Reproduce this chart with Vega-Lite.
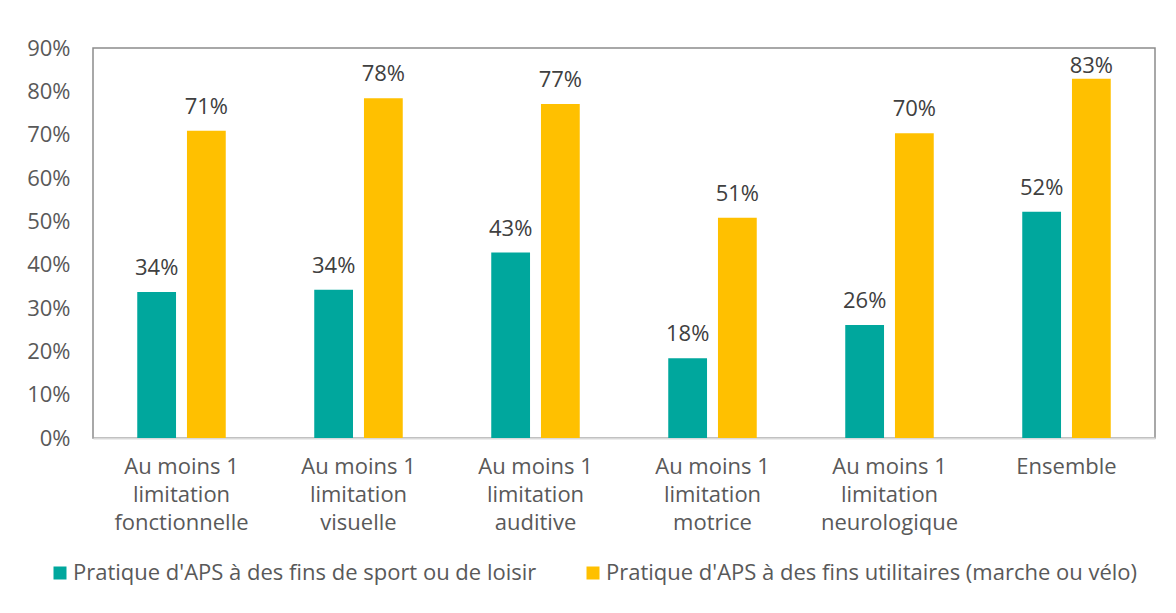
{
  "$schema": "https://vega.github.io/schema/vega-lite/v6.json",
  "width": 1062,
  "height": 390,
  "autosize": {"type": "none"},
  "padding": {"left": 93, "top": 48, "right": 21, "bottom": 175},
  "background": "white",
  "config": {
    "font": "Open Sans",
    "view": {"stroke": "#8c8c8c", "strokeWidth": 1.5},
    "axis": {"labelColor": "#595959", "labelFontSize": 22, "grid": false, "ticks": false, "title": null}
  },
  "data": {
    "values": [
      {"cat": "Au moins 1 limitation fonctionnelle", "serie": "Pratique d'APS à des fins de sport ou de loisir", "v": 0.337},
      {"cat": "Au moins 1 limitation fonctionnelle", "serie": "Pratique d'APS à des fins utilitaires (marche ou vélo)", "v": 0.709},
      {"cat": "Au moins 1 limitation visuelle", "serie": "Pratique d'APS à des fins de sport ou de loisir", "v": 0.342},
      {"cat": "Au moins 1 limitation visuelle", "serie": "Pratique d'APS à des fins utilitaires (marche ou vélo)", "v": 0.784},
      {"cat": "Au moins 1 limitation auditive", "serie": "Pratique d'APS à des fins de sport ou de loisir", "v": 0.428},
      {"cat": "Au moins 1 limitation auditive", "serie": "Pratique d'APS à des fins utilitaires (marche ou vélo)", "v": 0.771},
      {"cat": "Au moins 1 limitation motrice", "serie": "Pratique d'APS à des fins de sport ou de loisir", "v": 0.184},
      {"cat": "Au moins 1 limitation motrice", "serie": "Pratique d'APS à des fins utilitaires (marche ou vélo)", "v": 0.508},
      {"cat": "Au moins 1 limitation neurologique", "serie": "Pratique d'APS à des fins de sport ou de loisir", "v": 0.261},
      {"cat": "Au moins 1 limitation neurologique", "serie": "Pratique d'APS à des fins utilitaires (marche ou vélo)", "v": 0.703},
      {"cat": "Ensemble", "serie": "Pratique d'APS à des fins de sport ou de loisir", "v": 0.522},
      {"cat": "Ensemble", "serie": "Pratique d'APS à des fins utilitaires (marche ou vélo)", "v": 0.829}
    ]
  },
  "encoding": {
    "x": {
      "field": "cat", "type": "nominal", "sort": null,
      "scale": {"paddingInner": 0.5, "paddingOuter": 0.25},
      "axis": {
        "labelAngle": 0, "labelPadding": 18, "labelLineHeight": 28, "labelLimit": 300,
        "domainColor": "#d9d9d9", "domainWidth": 2,
        "labelExpr": "datum.value == 'Ensemble' ? 'Ensemble' : ['Au moins 1', 'limitation', replace(datum.value, 'Au moins 1 limitation ', '')]"
      }
    },
    "xOffset": {"field": "serie", "type": "nominal", "scale": {"paddingInner": 0.22}}
  },
  "layer": [
    {
      "mark": {"type": "bar"},
      "encoding": {
        "y": {
          "field": "v", "type": "quantitative",
          "scale": {"domain": [0, 0.9], "nice": false},
          "axis": {"values": [0, 0.1, 0.2, 0.3, 0.4, 0.5, 0.6, 0.7, 0.8, 0.9], "format": ".0%", "labelPadding": 23, "domain": false}
        },
        "color": {
          "field": "serie", "type": "nominal",
          "scale": {"range": ["#00A79D", "#FFC000"]},
          "legend": {
            "title": null, "orient": "none", "direction": "horizontal",
            "legendX": -44, "legendY": 514, "padding": 0,
            "symbolType": "square", "symbolSize": 169, "symbolStrokeWidth": 0,
            "labelFontSize": 22, "labelColor": "#595959", "labelLimit": 800,
            "labelOffset": 2, "columnPadding": 45
          }
        }
      }
    },
    {
      "mark": {"type": "text", "fontSize": 22, "color": "#404040", "baseline": "alphabetic", "dy": -17},
      "encoding": {
        "y": {
          "field": "v", "type": "quantitative",
          "scale": {"domain": [0, 0.804], "range": [390, 41.6], "nice": false, "clamp": true, "zero": true},
          "axis": null
        },
        "text": {"field": "v", "type": "quantitative", "format": ".0%"}
      }
    }
  ],
  "resolve": {"scale": {"y": "independent"}}
}
